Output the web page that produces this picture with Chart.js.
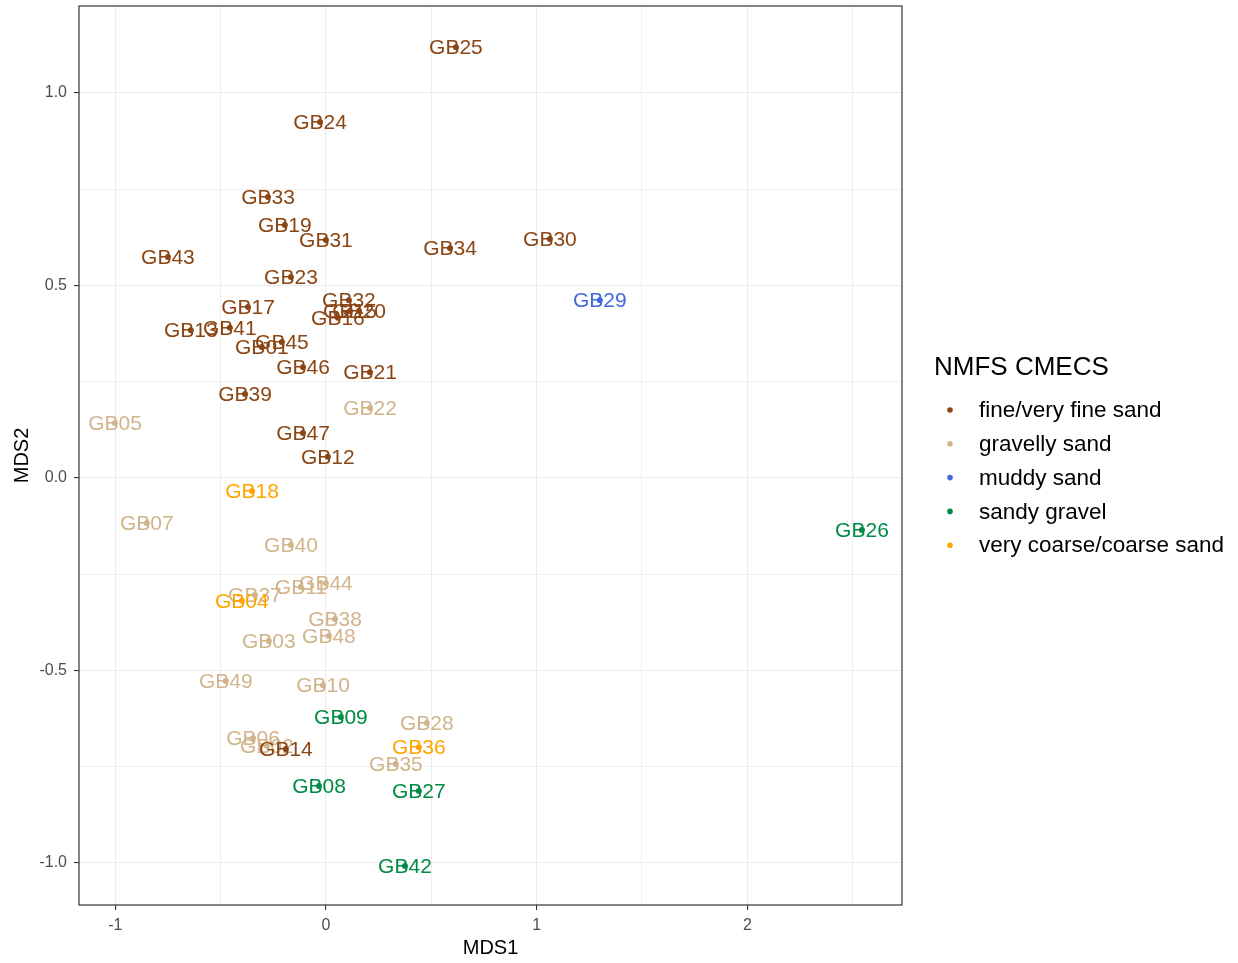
<!DOCTYPE html>
<html>
<head>
<meta charset="utf-8">
<script src="https://cdn.jsdelivr.net/npm/chart.js@4.4.1/dist/chart.umd.min.js"></script>
<style>
  html, body { margin: 0; padding: 0; background: #ffffff; }
  #wrap { width: 1238px; height: 963px; }
</style>
</head>
<body>
<div id="wrap"><canvas id="c" width="1238" height="963"></canvas></div>
<script>
// NMDS ordination of sediment samples, grouped by NMFS CMECS substrate class
const seriesNames = ['fine/very fine sand', 'gravelly sand', 'muddy sand', 'sandy gravel', 'very coarse/coarse sand'];
const seriesColors = ['#8B4513', '#D2B48C', '#4169E1', '#008B45', '#FFA500'];

const fineIds = ['GB01','GB12','GB13','GB14','GB15','GB16','GB17','GB19','GB20','GB21','GB23','GB24','GB25','GB30','GB31','GB32','GB33','GB34','GB39','GB41','GB43','GB45','GB46','GB47'];
const fineX   = [-0.304, 0.009, -0.641, -0.190, 0.114, 0.057, -0.370, -0.195, 0.157, 0.209, -0.166, -0.028, 0.617, 1.063, 0.000, 0.109, -0.275, 0.589, -0.384, -0.456, -0.750, -0.209, -0.109, -0.109];
const fineY   = [0.340, 0.055, 0.384, -0.704, 0.434, 0.416, 0.444, 0.657, 0.434, 0.275, 0.522, 0.925, 1.119, 0.621, 0.618, 0.462, 0.730, 0.597, 0.218, 0.390, 0.574, 0.353, 0.288, 0.117];

const gravellyIds = ['GB02','GB03','GB05','GB06','GB07','GB10','GB11','GB22','GB28','GB35','GB37','GB38','GB40','GB44','GB48','GB49'];
const gravellyX   = [-0.280, -0.271, -1.001, -0.346, -0.850, -0.014, -0.119, 0.209, 0.479, 0.332, -0.337, 0.043, -0.166, 0.000, 0.014, -0.475];
const gravellyY   = [-0.696, -0.423, 0.143, -0.675, -0.117, -0.538, -0.283, 0.182, -0.636, -0.743, -0.304, -0.366, -0.174, -0.273, -0.410, -0.527];

const muddyIds = ['GB29'];
const muddyX   = [1.300];
const muddyY   = [0.462];

const sandyGravelIds = ['GB08','GB09','GB26','GB27','GB42'];
const sandyGravelX   = [-0.033, 0.071, 2.544, 0.441, 0.375];
const sandyGravelY   = [-0.800, -0.621, -0.135, -0.813, -1.008];

const coarseIds = ['GB04','GB18','GB36'];
const coarseX   = [-0.399, -0.351, 0.441];
const coarseY   = [-0.319, -0.034, -0.699];

const xTickValues = [-1, -0.5, 0, 0.5, 1, 1.5, 2, 2.5];
const xTickLabels = ['-1', '', '0', '', '1', '', '2', ''];
const yTickValues = [-1, -0.75, -0.5, -0.25, 0, 0.25, 0.5, 0.75, 1];
const yTickLabels = ['-1.0', '', '-0.5', '', '0.0', '', '0.5', '', '1.0'];

const xRange = [-1.172, 2.734];
const yRange = [-1.109, 1.226];

const FONT = "'Liberation Sans', Arial, sans-serif";

function buildPoints(ids, xs, ys) {
  return ids.map((id, i) => ({ x: xs[i], y: ys[i], label: id }));
}

// drawing order: gravelly sand first so the other classes' labels sit above it
const drawOrder = [1, 0, 2, 3, 4];
const groups = [
  [fineIds, fineX, fineY],
  [gravellyIds, gravellyX, gravellyY],
  [muddyIds, muddyX, muddyY],
  [sandyGravelIds, sandyGravelX, sandyGravelY],
  [coarseIds, coarseX, coarseY]
];

const datasets = drawOrder.map(k => ({
  label: seriesNames[k],
  data: buildPoints(groups[k][0], groups[k][1], groups[k][2]),
  backgroundColor: seriesColors[k],
  borderColor: seriesColors[k],
  pointRadius: 3,
  pointHoverRadius: 3,
  borderWidth: 0
}));

// text labels centred on each point (points are drawn over them)
const labelPlugin = {
  id: 'pointLabels',
  beforeDatasetsDraw(chart) {
    const ctx = chart.ctx;
    const xs = chart.scales.x, ys = chart.scales.y;
    ctx.save();
    ctx.font = '21px ' + FONT;
    ctx.textAlign = 'center';
    ctx.textBaseline = 'middle';
    chart.data.datasets.forEach(ds => {
      ctx.fillStyle = ds.backgroundColor;
      ds.data.forEach(p => {
        ctx.fillText(p.label, xs.getPixelForValue(p.x), ys.getPixelForValue(p.y) + 1);
      });
    });
    ctx.restore();
  },
  afterDatasetsDraw(chart) {
    const ctx = chart.ctx;
    const a = chart.chartArea;
    ctx.save();
    ctx.strokeStyle = '#333333';
    ctx.lineWidth = 1.2;
    ctx.strokeRect(a.left, a.top, a.right - a.left, a.bottom - a.top);
    ctx.restore();
  }
};

// legend to the right of the panel
const legendPlugin = {
  id: 'sideLegend',
  afterDraw(chart) {
    const ctx = chart.ctx;
    ctx.save();
    ctx.fillStyle = '#000000';
    ctx.textAlign = 'left';
    ctx.textBaseline = 'middle';
    ctx.font = '26px ' + FONT;
    ctx.fillText('NMFS CMECS', 934, 368);
    ctx.font = '22.5px ' + FONT;
    seriesNames.forEach((name, i) => {
      const y = 410 + i * 33.8;
      ctx.fillStyle = seriesColors[i];
      ctx.beginPath();
      ctx.arc(950, y, 2.8, 0, Math.PI * 2);
      ctx.fill();
      ctx.fillStyle = '#000000';
      ctx.fillText(name, 979, y + 1);
    });
    ctx.restore();
  }
};

const isMajor = (vals, labels, v) => {
  const i = vals.findIndex(t => Math.abs(t - v) < 1e-9);
  return i >= 0 && labels[i] !== '';
};

new Chart(document.getElementById('c'), {
  type: 'scatter',
  data: { datasets },
  plugins: [labelPlugin, legendPlugin],
  options: {
    responsive: false,
    devicePixelRatio: 1,
    animation: false,
    events: [],
    layout: { padding: { left: 0, right: 336, top: 6, bottom: 0 } },
    plugins: { legend: { display: false }, tooltip: { enabled: false } },
    scales: {
      x: {
        type: 'linear',
        min: xRange[0],
        max: xRange[1],
        afterBuildTicks: s => { s.ticks = xTickValues.map(v => ({ value: v })); },
        afterFit: s => { s.height = 58; s.paddingLeft = 0; s.paddingRight = 0; },
        border: { display: false },
        grid: {
          color: '#EBEBEB',
          lineWidth: c => isMajor(xTickValues, xTickLabels, c.tick.value) ? 1.1 : 0.8,
          tickColor: c => isMajor(xTickValues, xTickLabels, c.tick.value) ? '#333333' : 'rgba(0,0,0,0)',
          tickLength: 5,
          tickWidth: 1.1
        },
        ticks: {
          autoSkip: false,
          maxRotation: 0,
          padding: 6,
          color: '#4D4D4D',
          font: { family: FONT, size: 16 },
          callback: v => { const i = xTickValues.findIndex(t => Math.abs(t - v) < 1e-9); return i >= 0 ? xTickLabels[i] : ''; }
        },
        title: {
          display: true,
          text: 'MDS1',
          color: '#000000',
          font: { family: FONT, size: 20 },
          padding: { top: 0, bottom: 3 }
        }
      },
      y: {
        type: 'linear',
        min: yRange[0],
        max: yRange[1],
        afterBuildTicks: s => { s.ticks = yTickValues.map(v => ({ value: v })); },
        afterFit: s => { s.width = 79; s.paddingTop = 0; s.paddingBottom = 0; },
        border: { display: false },
        grid: {
          color: '#EBEBEB',
          lineWidth: c => isMajor(yTickValues, yTickLabels, c.tick.value) ? 1.1 : 0.8,
          tickColor: c => isMajor(yTickValues, yTickLabels, c.tick.value) ? '#333333' : 'rgba(0,0,0,0)',
          tickLength: 5,
          tickWidth: 1.1
        },
        ticks: {
          autoSkip: false,
          padding: 7,
          color: '#4D4D4D',
          font: { family: FONT, size: 16 },
          callback: v => { const i = yTickValues.findIndex(t => Math.abs(t - v) < 1e-9); return i >= 0 ? yTickLabels[i] : ''; }
        },
        title: {
          display: true,
          text: 'MDS2',
          color: '#000000',
          font: { family: FONT, size: 20 },
          padding: { top: 10, bottom: 0 }
        }
      }
    }
  }
});
</script>
</body>
</html>
